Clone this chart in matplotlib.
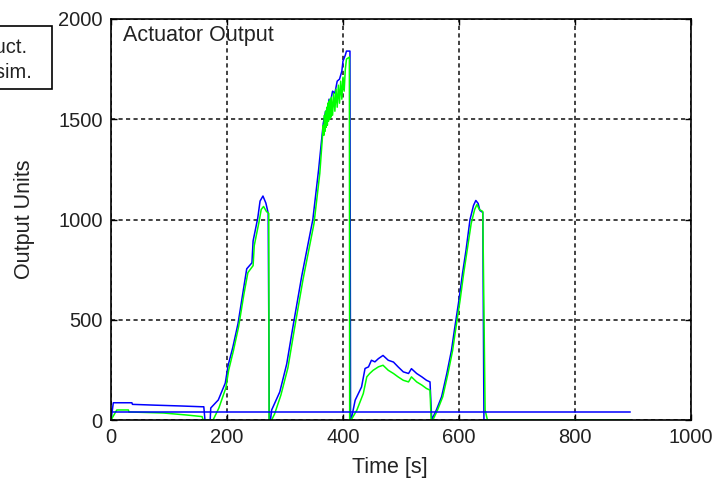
import matplotlib
matplotlib.use('Agg')
import matplotlib.pyplot as plt
from matplotlib.patches import Rectangle

plt.rcParams['font.family'] = ['Liberation Sans', 'DejaVu Sans']

# measured actuator output (blue)
t_act = [0, 4, 36, 37, 76, 120, 157, 160, 162, 171, 172, 185, 197, 202, 210, 219,
         228, 234, 243, 245, 253, 257, 262, 267, 271, 273, 275, 277, 291, 303, 314,
         329, 348, 358, 366, 370, 372, 376, 378, 382, 386, 390, 394, 398, 400, 404,
         406, 412, 413, 414, 421, 432, 438, 444, 449, 455, 461, 469, 478, 487, 495,
         504, 513, 518, 527, 536, 544, 550, 553, 556, 561, 570, 579, 587, 592, 600,
         606, 612, 619, 625, 629, 633, 636, 641, 643, 650, 895]
act = [0, 86, 86, 78, 74, 70, 66, 66, 0, 0, 60, 100, 184, 273, 362, 481,
       645, 754, 784, 893, 1007, 1092, 1117, 1082, 1032, 0, 0, 50, 140, 280, 470,
       720, 1000, 1250, 1480, 1540, 1520, 1600, 1580, 1640, 1630, 1690, 1700, 1740, 1790, 1820,
       1840, 1840, 0, 0, 99, 165, 257, 265, 298, 290, 306, 322, 298, 289, 265,
       240, 232, 256, 232, 215, 198, 190, 0, 20, 50, 116, 232, 347, 447, 600,
       730, 845, 1000, 1070, 1095, 1080, 1045, 1035, 0, 0, 0]

# simulated actuator output (green)
t_sim = [0, 10, 30, 31, 90, 130, 157, 159, 176, 186, 198, 203, 211, 220, 229,
         236, 245, 247, 255, 259, 263, 268, 272, 272.5, 277, 282, 293, 305, 316,
         331, 350, 360, 366, 367, 368, 369, 370, 371, 372, 373, 374, 375, 376, 377,
         378, 379, 380, 382, 384, 386, 388, 390, 392, 394, 396, 398, 400, 402, 404,
         406, 411, 411.5, 414, 424, 435, 441, 446, 452, 461, 469, 478, 487, 495,
         504, 513, 518, 527, 536, 544, 550, 552, 555, 563, 572, 581, 589, 594, 602,
         608, 614, 621, 627, 631, 635, 641, 645, 649, 895]
sim = [0, 50, 50, 40, 35, 25, 17, 0, 0, 60, 160, 250, 345, 465, 625,
       735, 770, 870, 985, 1050, 1065, 1040, 1030, 0, 0, 30, 125, 260, 450,
       700, 980, 1230, 1470, 1420, 1520, 1440, 1540, 1460, 1560, 1470, 1580, 1490, 1590, 1500,
       1600, 1510, 1610, 1520, 1630, 1540, 1650, 1560, 1670, 1580, 1690, 1600, 1710, 1640, 1750,
       1800, 1810, 0, 0, 50, 132, 215, 232, 248, 265, 273, 248, 232, 215,
       198, 190, 215, 190, 174, 157, 149, 0, 0, 50, 116, 232, 347, 447, 600,
       730, 845, 980, 1050, 1075, 1050, 1040, 50, 0, 0]

# constant reference level (blue)
t_ref = [0, 895]
ref = [41, 41]

fig = plt.figure(figsize=(7.21, 4.83), dpi=100)
ax = fig.add_axes([111 / 721, 1 - 420 / 483, 580 / 721, 401 / 483])

ax.plot(t_act, act, color='#0000ff', lw=1.1)
ax.plot(t_sim, sim, color='#00ff00', lw=1.1)
ax.plot(t_ref, ref, color='#0000ff', lw=1.1)

ax.set_xlim(0, 1000)
ax.set_ylim(0, 2000)
ax.set_xticks([0, 200, 400, 600, 800, 1000])
ax.set_yticks([0, 500, 1000, 1500, 2000])
ax.grid(True, color='#222222', linestyle=(0, (2.5, 2)), lw=1.2)
ax.tick_params(direction='in', top=True, right=True, length=4, width=1,
               labelsize=14.5, pad=6, labelcolor='#222222')
for s in ax.spines.values():
    s.set_linewidth(1.2)

ax.set_xlabel('Time [s]', fontsize=15.5, color='#222222')
ax.set_ylabel('Output Units', fontsize=15.5, color='#222222')
ax.xaxis.set_label_coords(0.48, -0.093)
ax.yaxis.set_label_coords(-0.131, 0.5)

ax.text(0.0207, 0.985, 'Actuator Output', transform=ax.transAxes,
        fontsize=15.5, va='top', ha='left', color='#222222')

# legend box, mostly outside the left edge of the figure
fig.patches.append(Rectangle((-0.02, 1 - 89 / 483), 52 / 721 + 0.02, 63 / 483,
                             transform=fig.transFigure, facecolor='white',
                             edgecolor='k', lw=1.2))
fig.text(27 / 721, 1 - 53 / 483, 'Product.', ha='right', va='baseline',
         fontsize=14.5, color='#222222')
fig.text(32 / 721, 1 - 78 / 483, 'Prod. sim.', ha='right', va='baseline',
         fontsize=14.5, color='#222222')

fig.savefig('out.png', dpi=100)
